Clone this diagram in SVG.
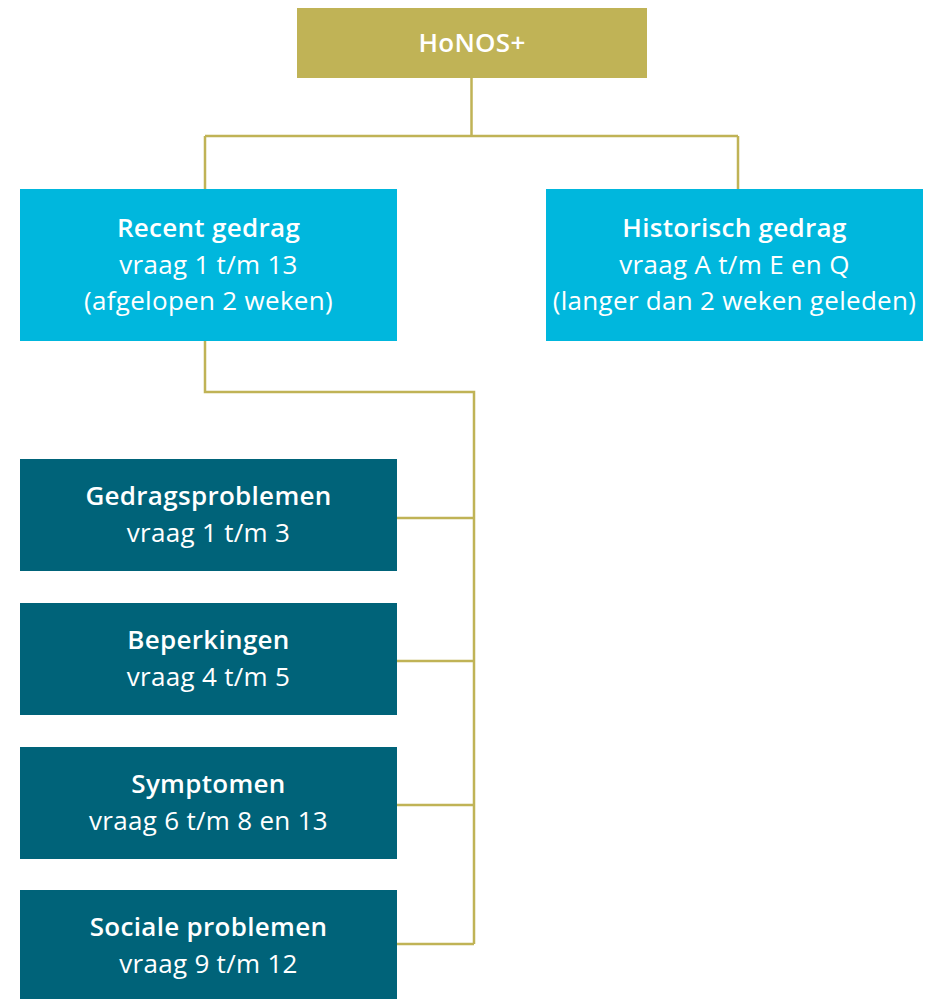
<svg xmlns="http://www.w3.org/2000/svg" width="926" height="999" viewBox="0 0 926 999">
<style>
.t{font-family:"Open Sans",Lato,"Liberation Sans",sans-serif;fill:#fff;text-anchor:middle;font-size:26px;letter-spacing:0.3px}
.b{font-weight:600}
.gold{fill:#C0B356}
.cyan{fill:#00B7DD}
.teal{fill:#006379}
.c{fill:none;stroke:#C0B356;stroke-width:2.5}
</style>
<rect width="926" height="999" fill="#fff"/>
<g id="connectors">
<path class="c" d="M471.5 78V136M205 136H738M205 136V189M738 136V189"/>
<path class="c" d="M205 341V392H474V944M397 518H474M397 661H474M397 805H474M397 944H474"/>
</g>
<g id="honos"><rect class="gold" x="297" y="8" width="350" height="70"/><text class="t b" x="472" y="52">HoNOS+</text></g>
<g id="recent"><rect class="cyan" x="20" y="189" width="377" height="152"/>
<text class="t b" x="208.5" y="237">Recent gedrag</text>
<text class="t" x="208.5" y="274">vraag 1 t/m 13</text>
<text class="t" x="208.5" y="310">(afgelopen 2 weken)</text></g>
<g id="historisch"><rect class="cyan" x="546" y="189" width="377" height="152"/>
<text class="t b" x="734.5" y="237">Historisch gedrag</text>
<text class="t" x="734.5" y="274">vraag A t/m E en Q</text>
<text class="t" x="734.5" y="310">(langer dan 2 weken geleden)</text></g>
<g id="gedragsproblemen"><rect class="teal" x="20" y="459" width="377" height="112"/>
<text class="t b" x="208.5" y="505">Gedragsproblemen</text>
<text class="t" x="208.5" y="542">vraag 1 t/m 3</text></g>
<g id="beperkingen"><rect class="teal" x="20" y="603" width="377" height="112"/>
<text class="t b" x="208.5" y="649">Beperkingen</text>
<text class="t" x="208.5" y="686">vraag 4 t/m 5</text></g>
<g id="symptomen"><rect class="teal" x="20" y="747" width="377" height="112"/>
<text class="t b" x="208.5" y="793">Symptomen</text>
<text class="t" x="208.5" y="830">vraag 6 t/m 8 en 13</text></g>
<g id="sociale"><rect class="teal" x="20" y="890" width="377" height="109"/>
<text class="t b" x="208.5" y="936">Sociale problemen</text>
<text class="t" x="208.5" y="973">vraag 9 t/m 12</text></g>
</svg>
